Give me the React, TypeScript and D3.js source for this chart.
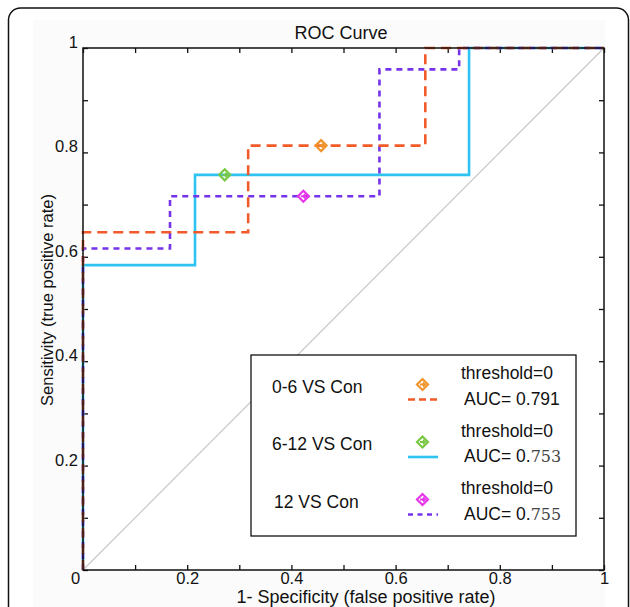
import { useEffect, useRef } from "react";
import { axisBottom, axisLeft, axisRight, axisTop, line, scaleLinear, select } from "d3";

// ROC vertices (false positive rate / true positive rate)
const fpr06 = [0, 0, 0.317, 0.317, 0.657, 0.657, 1];
const tpr06 = [0, 0.647, 0.647, 0.813, 0.813, 1, 1];
const fpr612 = [0, 0, 0.215, 0.215, 0.741, 0.741, 1];
const tpr612 = [0, 0.584, 0.584, 0.757, 0.757, 1, 1];
const fpr12 = [0, 0, 0.167, 0.167, 0.569, 0.569, 0.722, 0.722, 1];
const tpr12 = [0, 0.616, 0.616, 0.716, 0.716, 0.959, 0.959, 1, 1];

// threshold=0 operating points
const thresholdFpr = [0.457, 0.272, 0.423];
const thresholdTpr = [0.813, 0.757, 0.716];

const seriesNames = ["0-6 VS Con", "6-12 VS Con", "12 VS Con"];
const aucInt = ["0.", "0.", "0."];
const aucDigits = ["791", "753", "755"];
const tickValues = [0, 0.2, 0.4, 0.6, 0.8, 1];
const minorTicks = [0, 0.1, 0.2, 0.3, 0.4, 0.5, 0.6, 0.7, 0.8, 0.9, 1];

const lineColors = ["#f25a2a", "#2ec3f0", "#7533ea"];
const markerColors = ["#f0952c", "#79c843", "#e436e8"];
const dashes = ["10,6", null, "6,5"];

const FONT = "'Liberation Sans', Arial, Helvetica, sans-serif";

function App() {
  const ref = useRef<SVGSVGElement>(null);

  useEffect(() => {
    const svg = select(ref.current);
    svg.selectAll("*").remove();

    const margin = { left: 83, top: 48 };
    const w = 521;
    const h = 522;

    const x = scaleLinear().domain([0, 1]).range([0, w]);
    const y = scaleLinear().domain([0, 1]).range([h, 0]);

    // outer frame
    svg
      .append("rect")
      .attr("x", 8.5)
      .attr("y", 8)
      .attr("width", 620)
      .attr("height", 640)
      .attr("rx", 12)
      .attr("fill", "#fff")
      .attr("stroke", "#111")
      .attr("stroke-width", 1.5);
    svg
      .append("rect")
      .attr("x", 33)
      .attr("y", 20)
      .attr("width", 572)
      .attr("height", 587)
      .attr("fill", "#fafbfa");

    const g = svg.append("g").attr("transform", `translate(${margin.left},${margin.top})`);

    g.append("rect").attr("width", w).attr("height", h).attr("fill", "#fff");

    // diagonal
    g.append("line")
      .attr("x1", x(0))
      .attr("y1", y(0))
      .attr("x2", x(1))
      .attr("y2", y(1))
      .attr("stroke", "#c8c8c8")
      .attr("stroke-width", 1.2);

    // tick marks on all four sides
    const tickSel = (a: any) =>
      a.tickValues(minorTicks).tickSize(-5).tickFormat(() => "");
    g.append("g").attr("transform", `translate(0,${h})`).call(tickSel(axisBottom(x)));
    g.append("g").call(tickSel(axisTop(x)));
    g.append("g").call(tickSel(axisLeft(y)));
    g.append("g").attr("transform", `translate(${w},0)`).call(tickSel(axisRight(y)));
    g.selectAll(".domain").remove();
    g.selectAll(".tick line").attr("stroke", "#111").attr("stroke-width", 1.3);

    // tick labels
    const xl = g
      .append("g")
      .attr("transform", `translate(0,${h})`)
      .call(axisBottom(x).tickValues(tickValues).tickSize(0).tickFormat((d: any) => String(d)));
    xl.select(".domain").remove();
    xl.selectAll(".tick text")
      .attr("y", 14)
      .attr("dy", 0)
      .attr("dx", (d: any) => (d === 0 ? -8 : 0));
    const yl = g
      .append("g")
      .call(
        axisLeft(y)
          .tickValues(tickValues.filter((v) => v > 0))
          .tickSize(0)
          .tickPadding(5)
          .tickFormat((d: any) => String(d))
      );
    yl.select(".domain").remove();
    yl.selectAll(".tick text").attr("dy", -0.5);
    g.selectAll("text").attr("font-size", 16.5).attr("font-family", FONT).attr("fill", "#111");

    // curves
    const lineGen = line<[number, number]>()
      .x((d) => x(d[0]))
      .y((d) => y(d[1]));
    const curves = [
      fpr612.map((v, i) => [v, tpr612[i]] as [number, number]),
      fpr12.map((v, i) => [v, tpr12[i]] as [number, number]),
      fpr06.map((v, i) => [v, tpr06[i]] as [number, number]),
    ];
    const order = [1, 2, 0];
    curves.forEach((pts, k) => {
      const si = order[k];
      g.append("path")
        .datum(pts)
        .attr("fill", "none")
        .attr("stroke", lineColors[si])
        .attr("stroke-width", 2.6)
        .attr("stroke-dasharray", dashes[si])
        .attr("d", lineGen);
    });

    // plot box
    g.append("rect")
      .attr("width", w)
      .attr("height", h)
      .attr("fill", "none")
      .attr("stroke", "#111")
      .attr("stroke-width", 1.5);

    const marker = (sel: any, cx: number, cy: number, color: string) => {
      const m = sel.append("g").attr("transform", `translate(${cx},${cy})`);
      m.append("path")
        .attr("d", "M0,-5.5L5.5,0L0,5.5L-5.5,0Z")
        .attr("fill", "none")
        .attr("stroke", color)
        .attr("stroke-width", 2.2);
      m.append("path")
        .attr("d", "M-2.5,0H2.5M0.5,-2L2.5,0L0.5,2")
        .attr("fill", "none")
        .attr("stroke", color)
        .attr("stroke-width", 1.8);
    };

    thresholdFpr.forEach((v, i) => marker(g, x(v), y(thresholdTpr[i]), markerColors[i]));

    // title and axis labels
    svg
      .append("text")
      .attr("x", 341)
      .attr("y", 39)
      .attr("text-anchor", "middle")
      .attr("font-family", FONT)
      .attr("font-size", 18)
      .attr("fill", "#111")
      .text("ROC Curve");
    svg
      .append("text")
      .attr("x", 366)
      .attr("y", 602.5)
      .attr("text-anchor", "middle")
      .attr("font-family", FONT)
      .attr("font-size", 18)
      .attr("fill", "#111")
      .text("1-  Specificity (false positive rate)");
    svg
      .append("text")
      .attr("transform", "translate(53,300) rotate(-90)")
      .attr("text-anchor", "middle")
      .attr("font-family", FONT)
      .attr("font-size", 16.5)
      .attr("fill", "#111")
      .text("Sensitivity (true positive rate)");

    // legend
    const lg = svg.append("g");
    lg.append("rect")
      .attr("x", 251)
      .attr("y", 355)
      .attr("width", 325)
      .attr("height", 181)
      .attr("fill", "#fff")
      .attr("stroke", "#111")
      .attr("stroke-width", 1.3);
    seriesNames.forEach((name, i) => {
      const base = 392.5 + i * 57.5;
      lg.append("text")
        .attr("x", i === 2 ? 274 : 272)
        .attr("y", base)
        .attr("font-family", FONT)
        .attr("font-size", 17.5)
        .attr("fill", "#111")
        .text(name);
      marker(lg, 422.5, base - 8, markerColors[i]);
      lg.append("line")
        .attr("x1", 408)
        .attr("x2", 438)
        .attr("y1", base + 7)
        .attr("y2", base + 7)
        .attr("stroke", lineColors[i])
        .attr("stroke-width", 2.6)
        .attr("stroke-dasharray", i === 0 ? "7,4" : i === 2 ? "5,4.5" : null);
      lg.append("text")
        .attr("x", 461)
        .attr("y", base - 13.5)
        .attr("font-family", FONT)
        .attr("font-size", 17.5)
        .attr("fill", "#111")
        .text("threshold=0");
      const t = lg
        .append("text")
        .attr("x", 464)
        .attr("y", base + 12)
        .attr("font-family", FONT)
        .attr("font-size", 17.5)
        .attr("fill", "#111");
      t.append("tspan").text(`AUC= ${aucInt[i]}`);
      t.append("tspan")
        .attr("font-family", i === 0 ? FONT : "'DejaVu Serif', 'Liberation Serif', serif")
        .attr("font-size", i === 0 ? 17.5 : 16)
        .attr("fill", i === 0 ? "#111" : "#444")
        .text(aucDigits[i]);
    });
  }, []);

  return (
    <div style={{ position: "absolute", left: 0, top: 0 }}>
      <svg ref={ref} width={630} height={607} style={{ display: "block" }} />
    </div>
  );
}

export default App;
